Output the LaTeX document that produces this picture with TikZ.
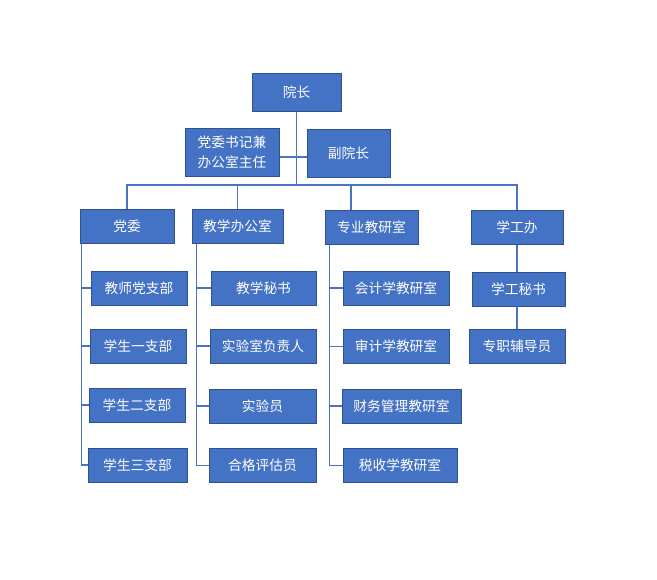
\documentclass[tikz,border=0pt]{standalone}
\usepackage{fontspec}
\setmainfont{Noto Sans CJK SC}
\usetikzlibrary{positioning, calc}
\usepackage{xcolor}
\definecolor{orgblue}{HTML}{4472C4}
\definecolor{orgedge}{HTML}{2F528F}
\definecolor{orgline}{HTML}{4A73C0}

\begin{document}
\begin{tikzpicture}[x=0.75pt, y=-0.75pt,
    box/.style={draw=orgedge, line width=0.75pt, fill=orgblue, text=white,
      font=\fontsize{10.3}{15}\selectfont, inner sep=0pt, align=center,
      minimum height=25.5pt},
    wd/.style={minimum width=#1*0.75pt},
    ht/.style={minimum height=#1*0.75pt},
    link/.style={draw=orgline, line width=0.9pt}]
  \useasboundingbox (0,0) rectangle (657,579);

  % top
  \node[box, wd=89, ht=38] (yz) at (296.5,92) {院长};
  \node[box, wd=94, ht=48] (sj) at (232,152) {党委书记兼\\办公室主任};
  \node[box, wd=83, ht=48] (fyz) at (348.5,153) {副院长};

  % departments
  \node[box, wd=94] (dw) at (127,226) {党委};
  \node[box, wd=91] (jxb) at (237.5,226) {教学办公室};
  \node[box, wd=93] (zy) at (371.5,227) {专业教研室};
  \node[box, wd=92] (xgb) at (517,227) {学工办};

  % 党委
  \node[box, wd=96] (dw1) at (139,288) {教师党支部};
  \node[box, wd=96] (dw2) at (138,346) {学生一支部};
  \node[box, wd=96] (dw3) at (137,405) {学生二支部};
  \node[box, wd=99] (dw4) at (137.5,465) {学生三支部};

  % 教学办公室
  \node[box, wd=105] (jx1) at (263.5,288) {教学秘书};
  \node[box, wd=106] (jx2) at (263,346) {实验室负责人};
  \node[box, wd=107] (jx3) at (262.5,406) {实验员};
  \node[box, wd=107] (jx4) at (262.5,465.5) {合格评估员};

  % 专业教研室
  \node[box, wd=106] (zy1) at (396,288) {会计学教研室};
  \node[box, wd=106] (zy2) at (396,346.5) {审计学教研室};
  \node[box, wd=119] (zy3) at (401.5,406) {财务管理教研室};
  \node[box, wd=114] (zy4) at (400,465.5) {税收学教研室};

  % 学工办
  \node[box, wd=93] (xg1) at (518.5,289) {学工秘书};
  \node[box, wd=96] (xg2) at (517,346.5) {专职辅导员};

  % connectors
  \coordinate (bus) at (296.5,185);
  \coordinate (zytop) at (351,185);
  \draw[link] (yz.south) -- (bus);
  \draw[link] (sj.east |- 0,157) -- (fyz.west |- 0,157);
  \draw[link] (dw.north) |- (bus) -| (xgb.north);
  \draw[link] (jxb.north) -- (jxb.north |- bus);
  \draw[link] (zytop) -- (zytop |- zy.north);

  \foreach \c in {dw1,dw2,dw3,dw4}
    \draw[link] ([xshift=1.5pt]dw.south west) |- (\c.west);
  \foreach \c in {jx1,jx2,jx3,jx4}
    \draw[link] ([xshift=3.75pt]jxb.south west) |- (\c.west);
  \foreach \c in {zy1,zy2,zy3,zy4}
    \draw[link] ([xshift=3.75pt]zy.south west) |- (\c.west);

  \draw[link] (xgb.south) -- (xgb.south |- xg1.north);
  \draw[link] (xgb.south |- xg1.south) -- (xgb.south |- xg2.north);
\end{tikzpicture}
\end{document}
